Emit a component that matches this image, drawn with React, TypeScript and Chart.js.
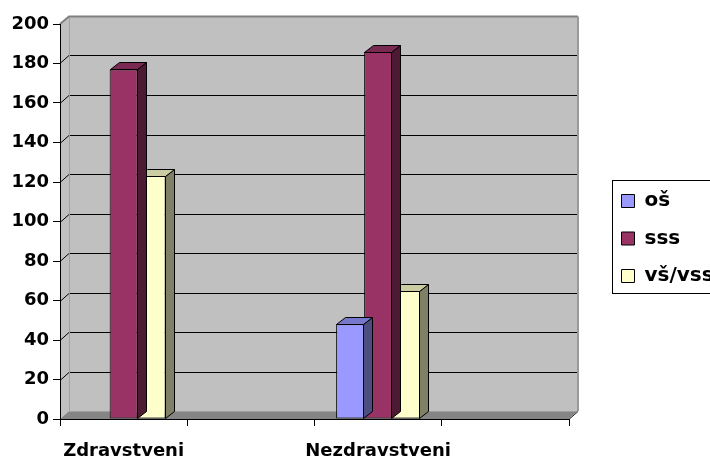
import React, { useEffect, useRef } from "react";
import { Chart, registerables } from "chart.js";

Chart.register(...registerables);

// ---- data ----
const categories = ["Zdravstveni", "", "Nezdravstveni", ""];
const seriesNames = ["oš", "sss", "vš/vss"];
const osValues: (number | null)[] = [0, null, 48, null];
const sssValues: (number | null)[] = [177, null, 186, null];
const vsValues: (number | null)[] = [123, null, 65, null];
const yMin = 0;
const yMax = 200;
const yStep = 20;

// ---- styles ----
const frontColors = ["#9999FF", "#993366", "#FFFFCC"];
const sideColors = ["#4D4D80", "#4D1A33", "#808066"];
const topColors = ["#7777CC", "#7A2952", "#CCCCA3"];
const FONT = { family: "'DejaVu Sans', sans-serif", weight: "bold" as const, size: 18 };
const LEGEND_FONT = { family: "'DejaVu Sans', sans-serif", weight: "bold" as const, size: 20 };
const WALL_DX = 9;
const WALL_DY = -8;
const BAR_DX = 9;
const BAR_DY = -7;

const threeD = {
  id: "threeD",
  beforeDraw(chart: any) {
    const { ctx, chartArea: ca, scales } = chart;
    const ys = scales.y;
    ctx.save();
    // back wall
    ctx.fillStyle = "#C0C0C0";
    ctx.fillRect(ca.left + WALL_DX, ca.top + WALL_DY, ca.right - ca.left, ca.bottom - ca.top);
    // side wall
    ctx.beginPath();
    ctx.moveTo(ca.left, ca.top);
    ctx.lineTo(ca.left + WALL_DX, ca.top + WALL_DY);
    ctx.lineTo(ca.left + WALL_DX, ca.bottom + WALL_DY);
    ctx.lineTo(ca.left, ca.bottom);
    ctx.closePath();
    ctx.fill();
    // floor
    ctx.beginPath();
    ctx.moveTo(ca.left, ca.bottom);
    ctx.lineTo(ca.right, ca.bottom);
    ctx.lineTo(ca.right + WALL_DX, ca.bottom + WALL_DY);
    ctx.lineTo(ca.left + WALL_DX, ca.bottom + WALL_DY);
    ctx.closePath();
    ctx.fillStyle = "#858585";
    ctx.fill();
    // grid lines on side + back wall
    ctx.strokeStyle = "#000";
    ctx.lineWidth = 1;
    ys.ticks.forEach((t: any) => {
      if (t.value <= yMin || t.value >= yMax) return;
      const py = Math.round(ys.getPixelForValue(t.value)) + 0.5;
      ctx.beginPath();
      ctx.moveTo(ca.left, py);
      ctx.lineTo(ca.left + WALL_DX, py + WALL_DY);
      ctx.lineTo(ca.right + WALL_DX, py + WALL_DY);
      ctx.stroke();
    });
    // edges
    const topY = Math.round(ca.top + WALL_DY) + 0.5;
    ctx.strokeStyle = "#A0A0A0";
    ctx.beginPath();
    ctx.moveTo(ca.left + WALL_DX + 0.5, topY);
    ctx.lineTo(ca.left + WALL_DX + 0.5, ca.bottom + WALL_DY);
    ctx.stroke();
    ctx.beginPath();
    ctx.moveTo(ca.left + WALL_DX, ca.bottom + WALL_DY + 0.5);
    ctx.lineTo(ca.right + WALL_DX, ca.bottom + WALL_DY + 0.5);
    ctx.stroke();
    ctx.strokeStyle = "#808080";
    ctx.lineWidth = 2;
    ctx.beginPath();
    ctx.moveTo(ca.left, ca.top);
    ctx.lineTo(ca.left + WALL_DX, topY);
    ctx.lineTo(ca.right + WALL_DX, topY);
    ctx.stroke();
    ctx.strokeStyle = "#9A9A9A";
    ctx.beginPath();
    ctx.moveTo(ca.right + WALL_DX, topY);
    ctx.lineTo(ca.right + WALL_DX, ca.bottom + WALL_DY);
    ctx.stroke();
    ctx.strokeStyle = "#333";
    ctx.lineWidth = 1;
    ctx.beginPath();
    ctx.moveTo(ca.right, ca.bottom + 0.5);
    ctx.lineTo(ca.right + WALL_DX, ca.bottom + WALL_DY + 0.5);
    ctx.stroke();
    ctx.restore();

    // legend placement
    const lg = chart.legend;
    if (lg) {
      lg.left = 604;
      lg.top = 173.5;
      lg.width = 200;
      lg.height = 200;
      lg.right = lg.left + lg.width;
      lg.bottom = lg.top + lg.height;
    }
  },
  afterDatasetDraw(chart: any, args: any) {
    const { ctx } = chart;
    const idx = args.index;
    const meta = args.meta;
    const data = chart.data.datasets[idx].data;
    ctx.save();
    ctx.strokeStyle = "#000";
    ctx.lineWidth = 1;
    ctx.lineJoin = "miter";
    meta.data.forEach((el: any, i: number) => {
      const v = data[i];
      if (v == null || v === 0) return;
      const { x, y, base, width } = el.getProps(["x", "y", "base", "width"], true);
      const l = Math.round(x - width / 2) + 0.5;
      const r = Math.round(x + width / 2) - 0.5;
      const t = Math.round(y) + 0.5;
      const b = Math.round(base) - 0.5;
      // side face
      ctx.beginPath();
      ctx.moveTo(r, t);
      ctx.lineTo(r + BAR_DX, t + BAR_DY);
      ctx.lineTo(r + BAR_DX, b + BAR_DY);
      ctx.lineTo(r, b);
      ctx.closePath();
      ctx.fillStyle = sideColors[idx];
      ctx.fill();
      ctx.stroke();
      // top face
      ctx.beginPath();
      ctx.moveTo(l, t);
      ctx.lineTo(l + BAR_DX, t + BAR_DY);
      ctx.lineTo(r + BAR_DX, t + BAR_DY);
      ctx.lineTo(r, t);
      ctx.closePath();
      ctx.fillStyle = topColors[idx];
      ctx.fill();
      ctx.stroke();
    });
    ctx.restore();
  },
  afterDraw(chart: any) {
    const { ctx } = chart;
    ctx.save();
    ctx.strokeStyle = "#000";
    ctx.lineWidth = 1;
    ctx.strokeRect(612.5, 180.5, 200, 113);
    ctx.restore();
  },
};

export default function App() {
  const ref = useRef<HTMLCanvasElement>(null);
  useEffect(() => {
    const canvas = ref.current;
    if (!canvas) return;
    const seriesValues = [osValues, sssValues, vsValues];
    const chart = new Chart(canvas, {
      type: "bar",
      data: {
        labels: categories,
        datasets: seriesNames.map((name, i) => ({
          label: name,
          data: seriesValues[i],
          backgroundColor: frontColors[i],
          borderColor: "#000",
          borderWidth: 1,
          borderSkipped: false,
          categoryPercentage: 0.66,
          barPercentage: 1,
        })),
      },
      options: {
        animation: false,
        responsive: false,
        maintainAspectRatio: false,
        devicePixelRatio: 1,
        events: [],
        layout: { padding: { top: 24, right: 161, left: 0, bottom: 0 } },
        plugins: {
          legend: {
            position: "chartArea",
            align: "start",
            labels: {
              boxWidth: 13,
              boxHeight: 13,
              padding: 17.5,
              color: "#000",
              font: LEGEND_FONT,
            },
          },
          tooltip: { enabled: false },
        },
        scales: {
          x: {
            type: "category",
            offset: true,
            afterFit(scale: any) {
              scale.height = 61;
            },
            grid: {
              offset: true,
              drawOnChartArea: false,
              drawTicks: true,
              tickLength: 7,
              color: "#000",
            },
            border: { display: true, color: "#000", width: 1 },
            ticks: { color: "#000", font: FONT, padding: 15, maxRotation: 0, autoSkip: false },
          },
          y: {
            min: yMin,
            max: yMax,
            afterFit(scale: any) {
              scale.width = 60;
            },
            grid: {
              drawOnChartArea: false,
              drawTicks: true,
              tickLength: 7,
              color: "#000",
            },
            border: { display: true, color: "#000", width: 1 },
            ticks: { stepSize: yStep, color: "#000", font: FONT, padding: 4 },
          },
        },
      },
      plugins: [threeD],
    } as any);
    return () => chart.destroy();
  }, []);
  return (
    <div
      style={{
        position: "fixed",
        left: 0,
        top: 0,
        width: 710,
        height: 459,
        overflow: "hidden",
        background: "#fff",
      }}
    >
      <canvas ref={ref} width={730} height={480} style={{ display: "block", width: 730, height: 480 }} />
    </div>
  );
}
